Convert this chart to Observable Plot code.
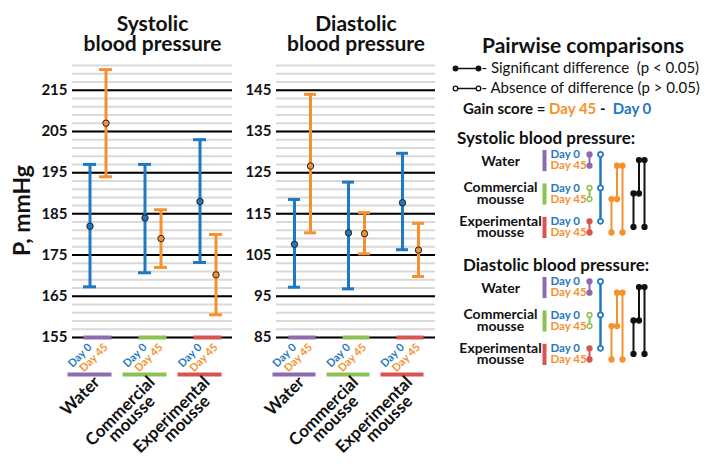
<!DOCTYPE html>
<html><head><meta charset="utf-8">
<script src="https://cdn.jsdelivr.net/npm/d3@7"></script>
<script src="https://cdn.jsdelivr.net/npm/@observablehq/plot@0.6"></script>
<style>
body{margin:0;background:#fff;}
#root{position:relative;width:726px;height:465px;overflow:hidden;background:#fff;font-family:Lato,"DejaVu Sans",sans-serif;color:#111;}
.abs{position:absolute;white-space:pre;}
</style></head><body><div id="root"></div>
<script>
// ---------------- data ----------------
const groups = ["Water", "Commercial\nmousse", "Experimental\nmousse"];
const days = ["Day 0", "Day 45"];
const groupColors = ["#8c6bb1", "#8dc153", "#d9534f"];
const dayColors = ["#1f78c1", "#f5922f"];

const sysMean0 = [182, 184, 188];
const sysLow0 = [167.3, 170.7, 173.2];
const sysHigh0 = [197, 197, 203];
const sysMean45 = [207, 179, 170.2];
const sysLow45 = [194, 172, 160.5];
const sysHigh45 = [220, 186, 180];

const diaMean0 = [107.6, 110.4, 117.7];
const diaLow0 = [97.2, 96.8, 106.3];
const diaHigh0 = [118.5, 122.7, 129.7];
const diaMean45 = [126.6, 110.2, 106.2];
const diaLow45 = [110.4, 105.3, 99.8];
const diaHigh45 = [144, 115.3, 112.7];

const sysTicks = [155, 165, 175, 185, 195, 205, 215];
const diaTicks = [85, 95, 105, 115, 125, 135, 145];
const sysDomain = [155, 221];
const diaDomain = [85, 151];

// pairwise comparisons: pairs of groups (Water–Commercial, Water–Experimental, Commercial–Experimental)
const pairIdx = [[0, 1], [0, 2], [1, 2]];
const sysWithinSig = [true, false, true];
const sysDay0Sig = [false, false, false];
const sysDay45Sig = [true, true, true];
const sysGainSig = [true, true, true];
const diaWithinSig = [true, false, true];
const diaDay0Sig = [false, false, false];
const diaDay45Sig = [true, true, true];
const diaGainSig = [true, true, true];

const keyLabels = ["- Significant difference  (p < 0.05)", "- Absence of difference (p > 0.05)"];
const keyFilled = [true, false];

// ---------------- helpers ----------------
const root = document.getElementById("root");
const FONT = "Lato, 'DejaVu Sans', sans-serif";
function place(el, left, top) {
  el.style.position = "absolute"; el.style.left = left + "px"; el.style.top = top + "px";
  root.appendChild(el);
}
function html(text, left, top, css) {
  const d = document.createElement("div");
  d.className = "abs"; d.innerHTML = text; d.style.cssText += css;
  d.style.left = left + "px"; d.style.top = top + "px";
  root.appendChild(d);
}

function panel(o) {
  const rows = [];
  groups.forEach((g, i) => {
    rows.push({group: g, day: 0, mean: o.mean0[i], low: o.low0[i], high: o.high0[i]});
    rows.push({group: g, day: 1, mean: o.mean45[i], low: o.low45[i], high: o.high45[i]});
  });
  const gdata = groups.map((g, i) => ({group: g, color: groupColors[i], lines: g.split("\n")}));
  const minor = d3.range(o.domain[0], o.domain[1] + 0.001, 2);
  const frameL = o.marginLeft, frameR = o.width - o.marginRight;
  const base = () => o.domain[0];
  const marks = [
    Plot.ruleY(minor, {y: d => d, stroke: "#d9d9d9", strokeWidth: 2}),
    Plot.ruleY(o.ticks, {y: d => d, stroke: "#000", strokeWidth: 2}),
    Plot.axisY({ticks: o.ticks, tickSize: 0, tickPadding: 5, fontSize: 15, fontWeight: "bold", label: null, fill: "#111"})
  ];
  [0, 1].forEach(d => {
    const sub = rows.filter(r => r.day === d);
    const dx = d === 0 ? -8 : 8;
    const c = dayColors[d];
    marks.push(
      Plot.ruleX(sub, {x: "group", y1: "low", y2: "high", stroke: c, strokeWidth: 3, dx}),
      Plot.tickY(sub, {x: "group", y: "high", stroke: c, strokeWidth: 3, insetLeft: 21, insetRight: 21, dx}),
      Plot.tickY(sub, {x: "group", y: "low", stroke: c, strokeWidth: 3, insetLeft: 21, insetRight: 21, dx}),
      Plot.dot(sub, {x: "group", y: "mean", r: 3.2, fill: c, stroke: "#222", strokeWidth: 1, dx}),
      Plot.text(gdata, {x: "group", y: base, text: () => days[d], fill: c, rotate: -45, textAnchor: "end",
        lineAnchor: "middle", dx, dy: 8, fontSize: 11, fontWeight: "bold"})
    );
  });
  marks.push(
    Plot.tickY(gdata, {x: "group", y: base, stroke: "color", strokeWidth: 4, insetLeft: 13.5, insetRight: 13.5}),
    Plot.tickY(gdata, {x: "group", y: base, stroke: "color", strokeWidth: 4, insetLeft: -2.5, insetRight: 13.5, dy: 37}),
    Plot.text(gdata, {x: "group", y: base, text: d => d.lines[0], rotate: -45, textAnchor: "end", lineAnchor: "middle",
      dx: -1, dy: 42, fontSize: 17, fontWeight: "bold", fill: "#111"}),
    Plot.text(gdata.filter(d => d.lines.length > 1), {x: "group", y: base, text: d => d.lines[1], rotate: -45, textAnchor: "end",
      lineAnchor: "middle", dx: -1, dy: 61, fontSize: 17, fontWeight: "bold", fill: "#111"}),
    Plot.text([o.title], {text: d => d, frameAnchor: "top", dy: -15, lineAnchor: "bottom", fontSize: 21,
      fontWeight: "bold", lineHeight: 0.95, fill: "#111"})
  );
  if (o.yLabel) marks.push(Plot.text([o.yLabel], {text: d => d, frameAnchor: "left", textAnchor: "middle", dx: -50, dy: 9, rotate: -90,
    fontSize: 23, fontWeight: "bold", fill: "#111"}));
  return Plot.plot({
    width: o.width, height: 465, marginLeft: o.marginLeft, marginRight: o.marginRight, marginTop: 65, marginBottom: 128,
    style: {fontFamily: FONT, background: "transparent", overflow: "visible", color: "#111"},
    x: {type: "band", domain: groups, range: [frameL - 2.5, frameR + 2.5], paddingInner: 0, paddingOuter: 0, axis: null},
    y: {domain: o.domain, label: null, axis: null},
    marks
  });
}

function sectionPlot(withinSig, day0Sig, day45Sig, gainSig) {
  const colsDay0 = [1, 1, 1], colsDay45 = [2.5, 3, 2], colsGain = [4.5, 5, 4];
  const segs = [], pts = [];
  groups.forEach((g, i) => {
    segs.push({x: 0, y1: 3 * i, y2: 3 * i + 1, color: groupColors[i]});
    pts.push({x: 0, y: 3 * i, color: groupColors[i], filled: withinSig[i]},
             {x: 0, y: 3 * i + 1, color: groupColors[i], filled: withinSig[i]});
  });
  pairIdx.forEach(([a, b], k) => {
    [[day0Sig, dayColors[0], 0, colsDay0], [day45Sig, dayColors[1], 1, colsDay45], [gainSig, "#111", 0.5, colsGain]]
      .forEach(([sig, color, off, cols]) => {
        segs.push({x: cols[k], y1: 3 * a + off, y2: 3 * b + off, color});
        pts.push({x: cols[k], y: 3 * a + off, color, filled: sig[k]}, {x: cols[k], y: 3 * b + off, color, filled: sig[k]});
      });
  });
  const labelRows = groups.flatMap((g, i) => {
    const lines = g.split("\n");
    return lines.length === 1 ? [{text: lines[0], y: 3 * i + 0.6}] : lines.map((t, j) => ({text: t, y: 3 * i + j}));
  });
  const dayRows = groups.flatMap((g, i) => days.map((d, j) => ({text: d, y: 3 * i + j, color: dayColors[j]})));
  const bars = groups.map((g, i) => ({y1: 3 * i, y2: 3 * i + 1, color: groupColors[i]}));
  return Plot.plot({
    width: 286, height: 100, marginTop: 11, marginBottom: 11, marginLeft: 0, marginRight: 0,
    style: {fontFamily: FONT, background: "transparent", overflow: "visible", color: "#111"},
    x: {domain: [0, 5], range: [149, 204], axis: null},
    y: {domain: [0, 7], range: [11, 89], axis: null},
    marks: [
      Plot.ruleX(bars, {x: () => 0, y1: "y1", y2: "y2", stroke: "color", strokeWidth: 4, dx: -45, insetTop: -4, insetBottom: -6}),
      Plot.text(labelRows, {x: () => 0, y: "y", text: "text", dx: -89, fontSize: 14, fontWeight: "bold", textAnchor: "middle", fill: "#111"}),
      Plot.text(dayRows, {x: () => 0, y: "y", text: "text", fill: "color", dx: -39, textAnchor: "start", fontSize: 11.5, fontWeight: "bold"}),
      Plot.link(segs, {x1: "x", x2: "x", y1: "y1", y2: "y2", stroke: "color", strokeWidth: 2}),
      Plot.dot(pts, {x: "x", y: "y", r: 2.4, stroke: "color", fill: d => d.filled ? d.color : "white", strokeWidth: 1.5})
    ]
  });
}

function keyPlot() {
  const kd = keyLabels.map((l, i) => ({label: l, i, filled: keyFilled[i]}));
  return Plot.plot({
    width: 286, height: 40, margin: 0,
    style: {fontFamily: FONT, background: "transparent", overflow: "visible", color: "#111"},
    x: {domain: [0, 1], range: [15, 38], axis: null},
    y: {domain: [0, 1], range: [10, 30], axis: null},
    marks: [
      Plot.link(kd, {x1: () => 0, x2: () => 1, y1: "i", y2: "i", stroke: "#111", strokeWidth: 1.5}),
      Plot.dot(kd.flatMap(d => [{...d, x: 0}, {...d, x: 1}]), {x: "x", y: "i", r: 2.3, stroke: "#111",
        fill: d => d.filled ? "#111" : "white", strokeWidth: 1.3}),
      Plot.text(kd, {x: () => 1, y: "i", text: "label", dx: 3, textAnchor: "start", fontSize: 15, fill: "#111"})
    ]
  });
}

// ---------------- layout ----------------
place(panel({title: "Systolic\nblood pressure", mean0: sysMean0, low0: sysLow0, high0: sysHigh0,
  mean45: sysMean45, low45: sysLow45, high45: sysHigh45, ticks: sysTicks, domain: sysDomain,
  width: 240, marginLeft: 72, marginRight: 8, yLabel: "P, mmHg"}), 0, 0);
place(panel({title: "Diastolic\nblood pressure", mean0: diaMean0, low0: diaLow0, high0: diaHigh0,
  mean45: diaMean45, low45: diaLow45, high45: diaHigh45, ticks: diaTicks, domain: diaDomain,
  width: 205, marginLeft: 41, marginRight: 5}), 235, 0);

html("Pairwise comparisons", 440, 32, "width:286px;text-align:center;font-weight:700;font-size:21px;line-height:26px;");
place(keyPlot(), 440, 58);
html(`Gain score = <span style="color:${dayColors[1]}">Day 45</span> -  <span style="color:${dayColors[0]}">Day 0</span>`,
  463, 98, "font-weight:700;font-size:15px;line-height:20px;");
html("Systolic blood pressure:", 457, 128, "font-weight:700;font-size:17px;line-height:20px;");
place(sectionPlot(sysWithinSig, sysDay0Sig, sysDay45Sig, sysGainSig), 440, 143);
html("Diastolic blood pressure:", 463, 255, "font-weight:700;font-size:17px;line-height:20px;");
place(sectionPlot(diaWithinSig, diaDay0Sig, diaDay45Sig, diaGainSig), 440, 270);
</script></body></html>
